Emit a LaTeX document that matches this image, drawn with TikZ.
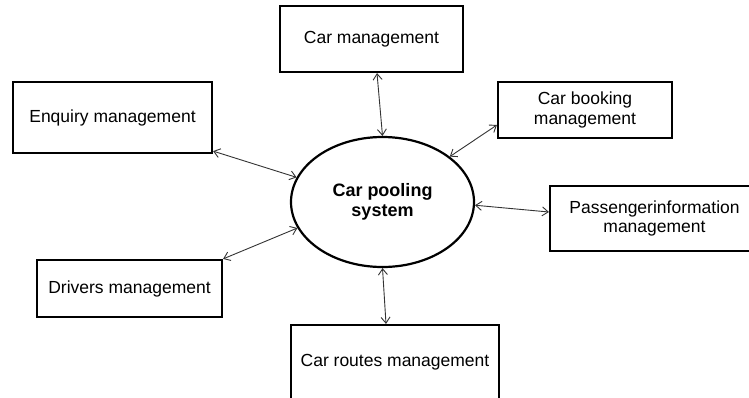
\documentclass[tikz,border=0pt]{standalone}
\usepackage{fontspec}
\setmainfont{Liberation Sans}
\usetikzlibrary{arrows.meta,calc,shapes.geometric}
\begin{document}
\begin{tikzpicture}[x=1pt,y=-1pt,
  box/.style={draw=black,line width=2.2pt,rectangle,align=center,inner sep=0pt,
    font=\fontsize{17.5}{19.5}\selectfont},
  link/.style={draw=black!80,line width=0.9pt,
    {Straight Barb[length=6pt,width=9pt]}-{Straight Barb[length=6pt,width=9pt]}}]
\useasboundingbox (0,0) rectangle (749,397);
\clip (0,0) rectangle (749,397);
\node[box,minimum width=183pt,minimum height=66pt] (carm) at (371.5,39) {Car management};
\node[box,minimum width=199pt,minimum height=71pt] (enq) at (112.5,117.5) {Enquiry management};
\node[box,minimum width=174pt,minimum height=56pt] (book) at (585,110) {Car booking\\management};
\node[box,minimum width=209pt,minimum height=65pt] (pass) at (654.5,218.5) {Passengerinformation\\management};
\node[box,minimum width=185pt,minimum height=57pt] (drv) at (129.5,288.5) {Drivers management};
\node[box,minimum width=208pt,minimum height=74pt] (route) at (395,362) {Car routes management};
\node[draw=black,ellipse,line width=2.2pt,minimum width=183pt,minimum height=130pt,inner sep=0pt,
  align=center,font=\bfseries\fontsize{18}{20.5}\selectfont] (pool) at (382.5,202) {Car pooling\\system};
\draw[link] ($(carm.south)+(5.5,0)$) -- (pool.north);
\draw[link] ($(enq.south east)+(0,-3)$) -- (pool.164);
\draw[link] ($(book.west)+(0,15)$) -- (pool.34.5);
\draw[link] (pool.-2) -- ($(pass.west)+(0,-6.5)$);
\draw[link] (drv.north east) -- (pool.197);
\draw[link] (pool.south) -- ($(route.north)+(-9,0)$);
\end{tikzpicture}
\end{document}
